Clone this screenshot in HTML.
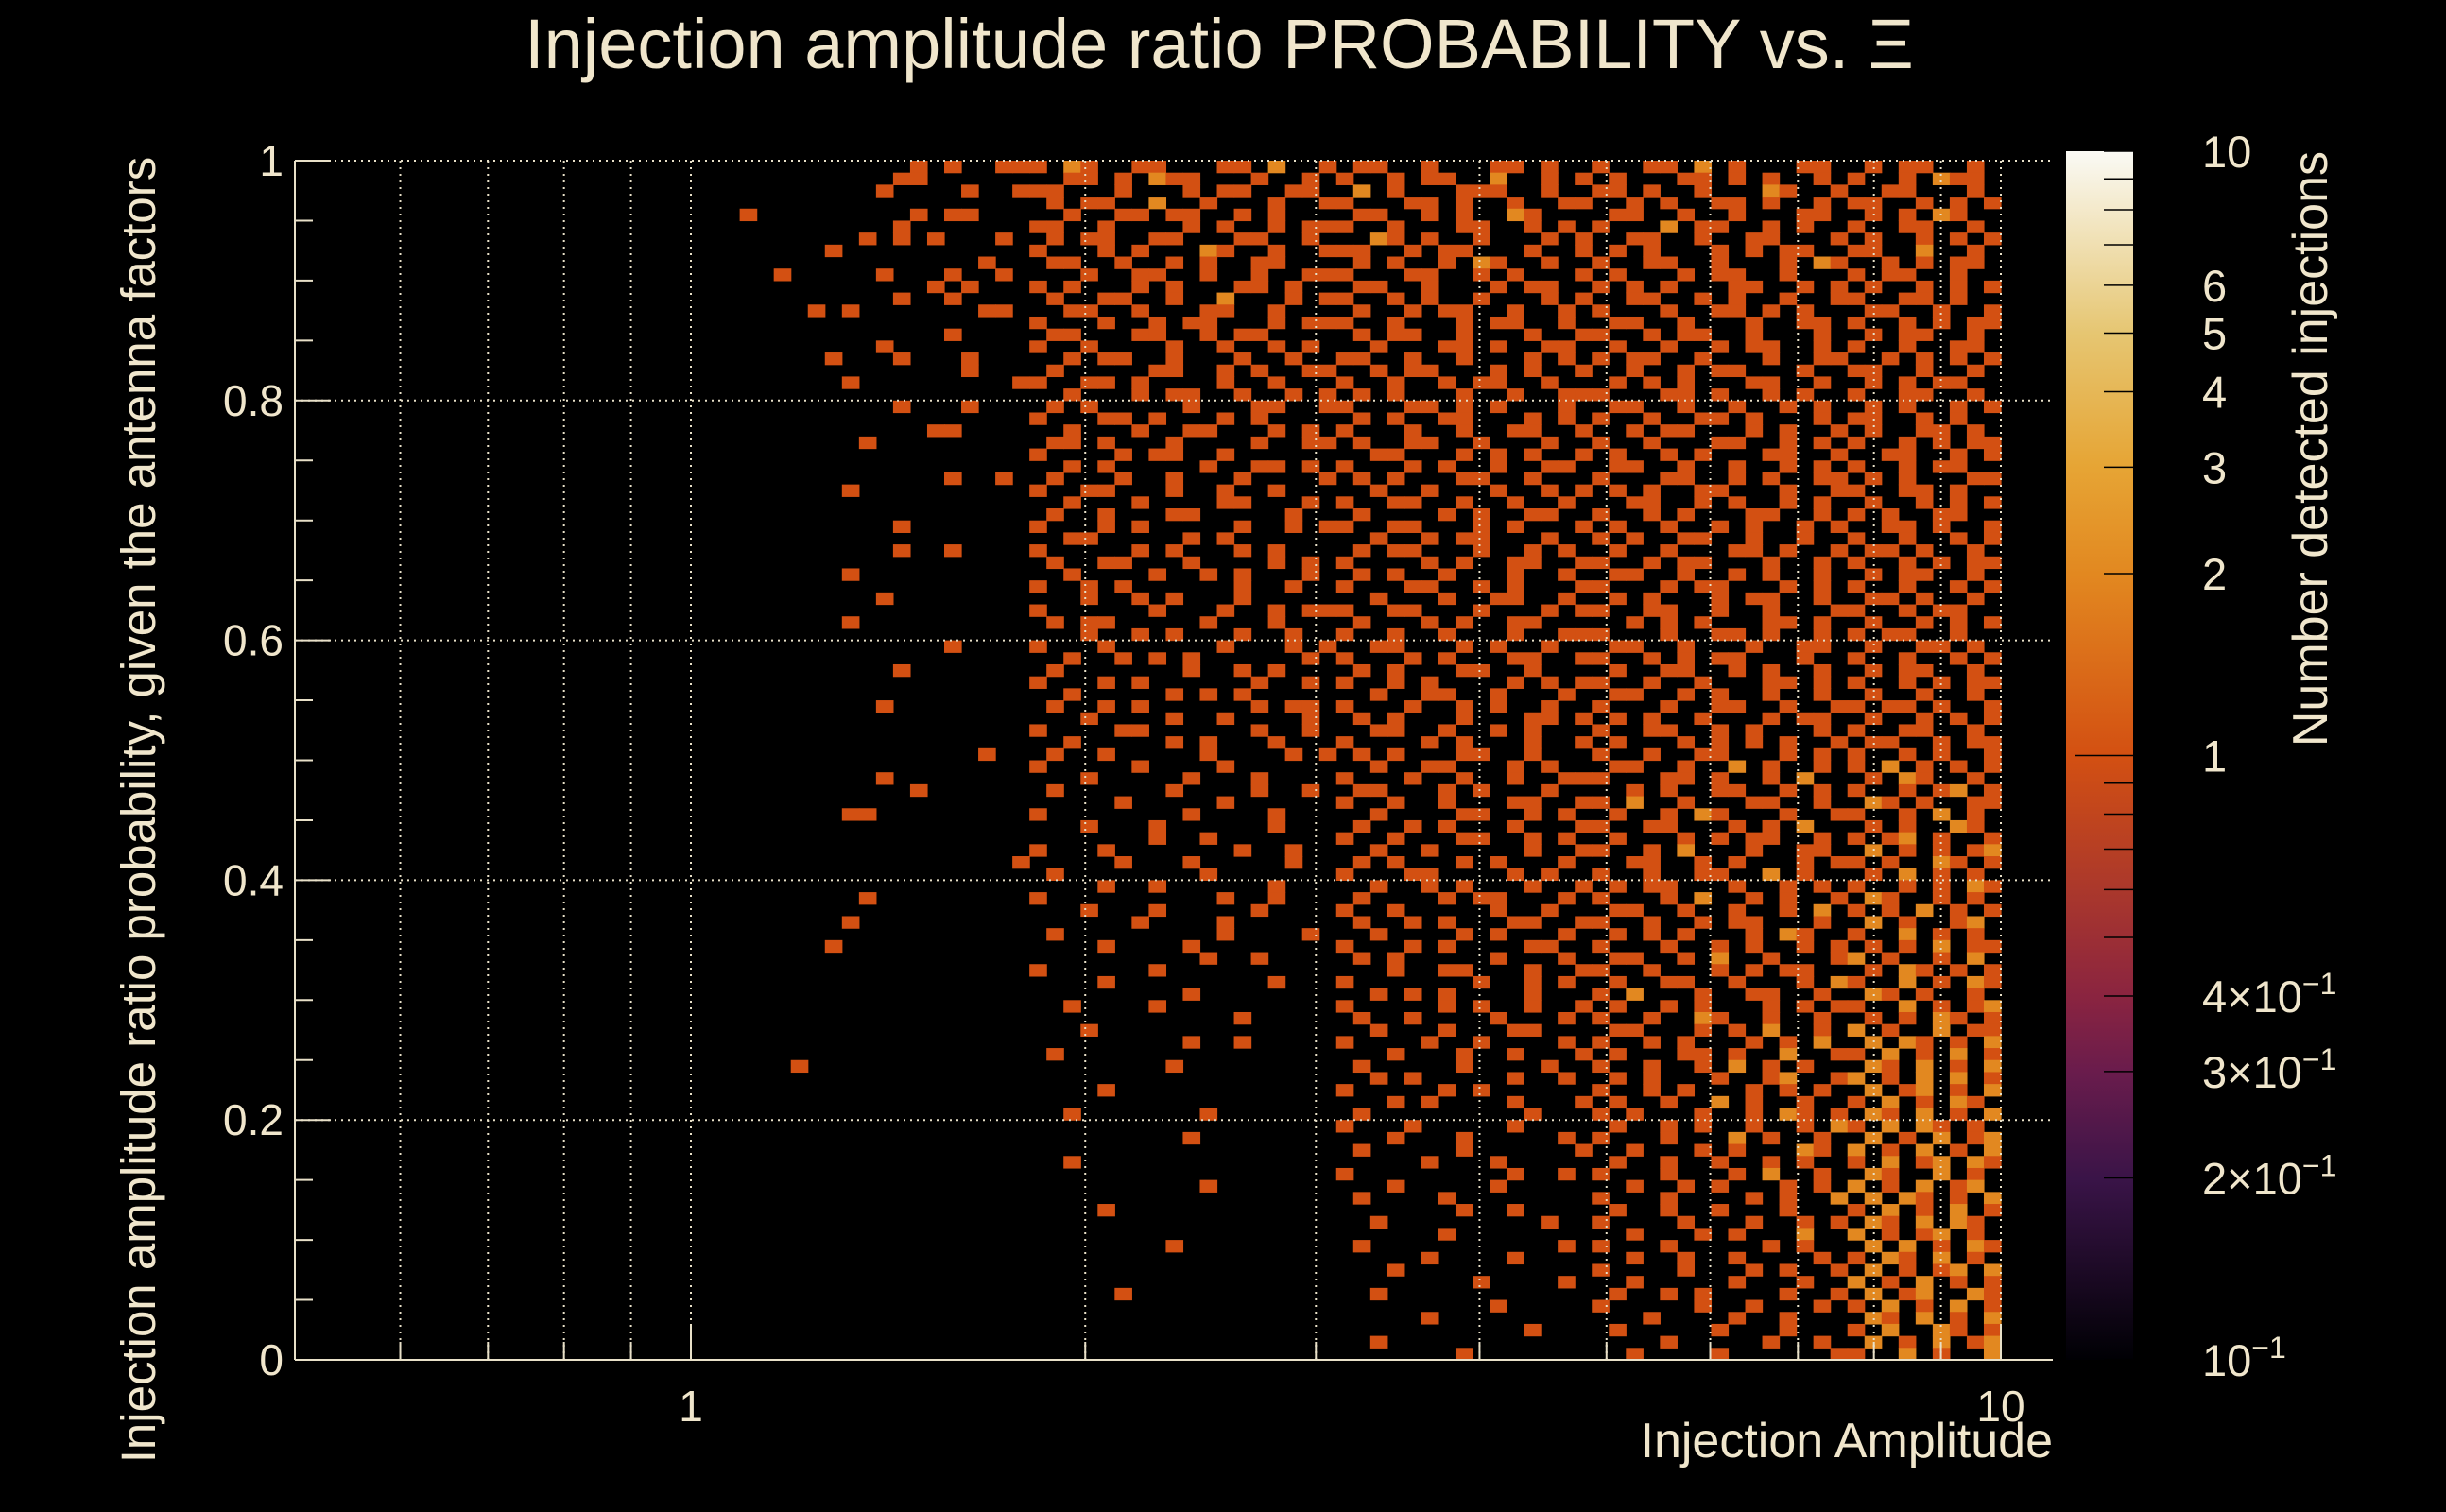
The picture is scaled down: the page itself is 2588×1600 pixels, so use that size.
<!DOCTYPE html>
<html><head><meta charset="utf-8">
<style>
html,body{margin:0;padding:0;background:#000;}
svg{display:block;font-family:"Liberation Sans",sans-serif;}
</style></head>
<body>
<svg id="chart" width="2588" height="1600" viewBox="0 0 2588 1600" xmlns="http://www.w3.org/2000/svg">
<rect x="0" y="0" width="2588" height="1600" fill="#000"/>
<text x="1290" y="72" font-size="74" fill="#f0e6cc" text-anchor="middle">Injection amplitude ratio PROBABILITY vs.  Ξ</text>
<g id="cells"></g>
<g id="grid"></g>
<g id="axes"></g>
<g id="cbar"></g>
<text transform="translate(164,857) rotate(-90)" font-size="51" fill="#f0e6cc" text-anchor="middle">Injection amplitude ratio probability, given the antenna factors</text>
<text x="2172" y="1542" font-size="52" fill="#f0e6cc" text-anchor="end">Injection Amplitude</text>
<text transform="translate(2462,160) rotate(-90)" font-size="52" fill="#f0e6cc" text-anchor="end">Number detected injections</text>
</svg>
<script>
// ---- data ----
// x bins: 100 log-uniform bins from 0.5 to 10; rows from y=1 (top) down to y=0, 100 bins
const xMin = 0.5, xMax = 10, nXBins = 100, nYBins = 100;
const firstDataBin = 21;
const segLens = [22, 18, 15, 15, 9];
const rows = [
"...............1.1..11|1.21..11...11.2..1|.11..1...11.1..|1..11.2.1...11.|.1.11..1.",
"..............11......|..11.1.211...1..1.|1..1.11..2..1.1|.1...11.1.1..1.|1..1.211.",
".............1....1..1|11...1...1.11..11.|.2.1...111..1..|11.1..1...21..1|..11...1.",
"......................|.1.11..2..1...1..1|1...11.1..1..11|..1.1..11.1..1.|11..1.1.1",
".....1.........1.11...|..1..11.11..1.1...|.11..1.1..21...|.11..1..1...11.|.1.1.21..",
"..............1.......|11..1....1.1..1.11|1..1...11..1.1.|1...2.11..1.1..|1..11..1.",
"............1.1.1...1.|.1.11..11...11..1.|..21.1..1...1.1|..11..1..11...1|.1..1.1.1",
"..........1...........|1...1.1...21..1..1|11..1.11...1..1|.1.1...1.1.11..|11..2..1.",
"...................1..|.11..1..1.1..11...|.1.1..1.21..1..|1..11..1...1.21|..1.1.11.",
".......1.....1...1..1.|...1..11..1..1..11|1...11..1.1...1|.1...1.11..1...|1.11..1..",
"................1.1...|1.1...1.1...11.1..|.11..1...1.11..|1.1.1...11..1.1|.1..1.1.1",
"..............1..1....|.1..11..1..2...1.1|1..1.1..1...1.1|..11..1.1..1..1|1..11.1..",
".........1.1.......11.|..11..1...11..1...|.1..1.11..1..1.|1...1..11.1.1..|.11..1..1",
"......................|1...1..1.11...1.11|1..1...1.11..1.|.11..1...1..11.|1..1.1.11",
".................1....|.11...11..1.11....|.1.11..1...1..1|1..1.11..1...1.|.1.11..1.",
".............1........|1..1....1..1..1.1.|..1...11.1..11.|.1..1..1.11..1.|1..1..11.",
"..........1...1...1...|..1.11..1...1..1..|11..1..1...1.1.|1.11..1...1..11|..1.1.1.1",
"..................1...|.1.....11..1.1..11|..1.11...1.1..1|..1..1.11...1..|11..1..1.",
"...........1.........1|1..11.1....1..1...|1..1..1.11..1..|.1.1.1...11..1.|.1.1.11..",
"......................|..1...1.11..1..1.1|.1.1...1..1..11|1...11.1..1.1..|1..11..1.",
"..............1...1...|.1.1.....1...11..1|1...11.1.1...1.|.11..1..1..1.1.|.1.1..1.1",
"......................|1...11.1...1.1....|.1.1..11...1.1.|1..1..11.1...1.|11..1.1..",
"................11....|..1...1..11...1.1.|1...1..1..11..1|..1.11...1.1..1|.1..11.1.",
"............1.........|.11.1...1....1..11|.1..11..1...1..|1..1...11..1.1.|1..1.1.11",
"......................|1....1.11..1......|..11...1.1.1..1|.1..1.1...11..1|..11..1.1",
"......................|..1.1.....1..11.1.|1...1.1..1..11.|.11..1..1..1.1.|1..1.11..",
".................1..1.|.1...1..1...1....1|.1.1...11..1...|1...11..1.1..11|.1.1...11",
"...........1..........|1..11...1..1..1...|..1..1...1..1.1|.1.1..11...1..1|1..11.1..",
"......................|..1...1....11...1.|1..11..1..1..1.|..11..1.1..1.1.|.1..1.1.1",
"......................|.1..1...11.....1..|.1....1.1..11..|1..1.1...11..1.|1.1..11..",
"..............1.......|1...1.1.....1..1.1|1..11...1.1...1|.1..1..1.1..1.1|..11.1..1",
"......................|..11.....1.1......|..1..1.11...1..|1.1..11..1..1..|1..1..1.1",
"..............1..1....|1.....1.1...1.1...|.1.11...1..1.1.|.1..1...11.1..1|.11.1..1.",
"......................|.1..11...1....1.1.|1....1.1..11..1|1..1.11...1..1.|1..1.1.11",
"...........1..........|..1....1..1.1...1.|.1.1..1...1..1.|.11..1..1.1..1.|.1.11..1.",
"......................|1..1.1......1..1..|1...11..1.1...1|1...1.11...1.1.|1..1..1.1",
".............1........|...1..1.1...1.....|..1...1..11..1.|.1.1...1.11..1.|.11.1..1.",
"......................|1......1...1..1.11|1..11...1...1.1|1..11..1..1...1|1..1.11..",
"...........1..........|.1.11.....1...1...|.1...1.1..11...|..1.1.1...11.1.|.1..1.1.1",
"......................|...1..1.1...1..1..|1..1..1...1..11|1...1..11.1..1.|1.11..1..",
".................1....|1...1......1...1.1|..11...1.1..1..|.11..1...1..11.|.1..11.1.",
"......................|..1..1.1.1......1.|1...1.1...11..1|1..1.1.11...1..|1..1..1.1",
"..............1.......|.1.......1..1.1...|.1.1...11..1...|.1..11..1.1..1.|.1.11..1.",
"......................|1...1.1......1..1.|1..1.1....1.1.1|1..1..1...11.1.|1..1.1.11",
"......................|..1.....1.1.1.....|..1..11..1...1.|.11..1.1..1..1.|.1..1..1.",
".............1........|.1..1.1......1.11.|1...1..1.1..1..|1...1..11..1..1|1.11.1..1",
"......................|...1....1..1....1.|.1.1...1...11.1|.1.1..1...1.11.|.1..1.1.1",
"......................|1....11......1..1.|..11..1..1.1...|1..11..1.1...1.|1..11..1.",
"......................|..1.....1.1...1...|1....1.1...1..1|.1...1.1.1.1..1|.11..1.11",
"...................1..|.1..1.....1....1.1|.1.1...11..1...|1..1..11...1.1.|1..1.1..1",
"......................|1.....1....1......|..1..11...1.1..|.11..1..2.1..1.|1.2.1.1.1",
".............1........|...1.....1...1....|1...1..1..1..11|1...11.1..1.2..|.1.21..1.",
"...............1......|.1......1....1..1.|.11...1.1...1..|..1.1..11..1.1.|1..1.12.1",
"......................|.....1.....1......|1..1..1...11..1|1.2..1...11..1.|.21.1..11",
"...........11.........|1........1....1...|..1....11..1.1.|.1..1.21...1..1|1..1.2.1.",
"......................|...1...1......1...|.1..1.1...1...1|1..11...1.1.2..|.1.1..21.",
"......................|.......1..1.......|1..1...11..1.1.|.1...1.1.11..1.|1.12.1..1",
"......................|1...1.......1..1..|..1..1.....1..1|1..1.2...1..11.|.2.1.1.12",
".....................1|.....1...1.....1..|.1.1...1.1...1.|..11..1.1...1.1|1.1..21.1",
"......................|.1........1.......|1...11....1.1..|1..1..11..2.1..|.1.2.1.1.",
"......................|....1..1......1...|..1..1.1...1..1|.1.11...1..1.1.|1..1.1.21",
"............1.........|1..........1..1...|.1....1.11...1.|1...1.2..1.1..1|.21..1.1.",
"......................|...1...1.....1....|1..1.....1..1..|.11..1..1..1.2.|1.1.2.1.1",
"...........1..........|......1....1......|.1..1.1...11..1|1..1..1.11...1.|.2.1..12.",
"......................|.1.........1....1.|..1....1.1...1.|.1.1.1...1.21..|1..2.1.1.",
"..........1...........|....1....1........|1...1.1....11..|1...1..1.1..1.1|.1.1.2.11",
"......................|..........1..1....|.1.1.....1...1.|.11..1.2..1...1|2.1..1.2.",
"......................|1......1..........|...1..11...1..1|1..1...1.1.11..|.1.21.1.1",
"......................|....1.........1...|1.......1..1.1.|.1..11..1...1.2|1..2.1.21",
"......................|.........1........|..1.1.1....1...|1.2...1..11..1.|.21.1..1.",
"......................|..1....1..........|1.....1.1..1..1|.1..1.1...1.1.1|1..2.1.12",
"......................|............1.....|.1..1....1...1.|1..1..21..1..1.|.1.1.21.1",
"......................|...1..............|..1...1...11...|.11...1.1.2..1.|2.1..2.11",
"......................|.........1..1.....|1....1..1....1.|1..1.1...1.1.2.|.2.21.1.2",
"......................|.1................|...1...1..1...1|.1...11.1..2..1|1.2.1.2.1",
"........1.............|........1.........|.1.....1....1..|1..1..1.2.1.1..|.21.2.1.2",
"......................|..................|..1.1.....1..1.|.1.1...1..12..1|2.1.2.2.1",
"......................|....1.............|1.....1.1......|1..1.1...1.1.1.|.2.12.1.2",
"......................|..................|...1.1....1...1|.1..1..2.1..1..|1.2.1.21.",
"......................|..1.......1.......|.1.........1...|1.1...1..1.21.1|.21.2.1.2",
"......................|..................|1...1.....1....|.1..1.1..1..1.2|1.2.21.1.",
"......................|.........1........|...1...1.....1.|1...1...2.1..1.|.2.1.2.12",
"......................|..................|.1.....1......1|..1...1.1...21.|2.1.2.1.2",
"......................|..1...............|.....1...1.....|.1..1..1..1.1..|1.2.12.21",
"......................|..................|1.........1..1.|1...1...1.2..1.|.21..2.1.",
"......................|..........1.......|...1.....1.....|..1..1.1...1.1.|2.1.2.12.",
"......................|..................|.1....1........|1...1....1.1..2|.2.21.1.2",
"......................|....1.............|.......1..1....|.1..1..1...1...|1.2.1.2.1",
"......................|..................|..1.........1..|1....1...1..1.1|.21.2.21.",
"......................|..................|......1........|..1...1.1...2..|2.1.12.1.",
"......................|........1.........|.1...........1.|1...1.....1.1..|.2.2.1.21",
"......................|..................|.....1....1....|..1..1..1....1.|1.21.2.1.",
"......................|..................|...1...........|1....1...1.1..1|.2.1.12.2",
"......................|..................|........1....1.|..1.....1...1..|2.1.2.1.1",
"......................|.....1............|..1............|.1..1.1....1..1|.2.12..21",
"......................|..................|.........1.....|1.....1..1...1.|1.2.1.2.1",
"......................|..................|.....1.........|...1....1..1...|.21.2.1.2",
"......................|..................|...........1...|.1.....1...1...|1.2..21.1",
"......................|..................|..1............|....1.....1..1.|.2.1.2.12",
"......................|..................|.......1.......|..1....1......1|1..2.1..2"
];
const yTicks = [0, 0.2, 0.4, 0.6, 0.8, 1];
const yTickLabels = ["0", "0.2", "0.4", "0.6", "0.8", "1"];
const xGridVals = [0.6, 0.7, 0.8, 0.9, 1, 2, 3, 4, 5, 6, 7, 8, 9, 10];
const xMajor = [1, 10];
const xTickLabels = ["1", "10"];
const cbMajor = [0.1, 0.2, 0.3, 0.4, 1, 2, 3, 4, 5, 6, 10];
const cbLabels = ["10", "2×10", "3×10", "4×10", "1", "2", "3", "4", "5", "6", "10"];
const cbMinor = [0.5, 0.6, 0.7, 0.8, 0.9, 7, 8, 9];

// ---- geometry ----
const PL = 312, PR = 2172, PT = 170, PB = 1439;
const X1 = 731, DEC = 1386;
function xs(v){ return X1 + Math.log10(v) * DEC; }
function ys(v){ return PB - v * (PB - PT); }
const CBL = 2186, CBR = 2257, CBT = 160, CBB = 1439;
function cs(v){ return CBB - (Math.log10(v) + 1) / 2 * (CBB - CBT); }
const stops = [[0,[0,0,4]],[0.15,[58,20,72]],[0.239,[106,28,76]],[0.30,[138,36,64]],[0.5,[211,80,18]],[0.65,[226,136,32]],[0.74,[230,165,53]],[0.85,[230,198,114]],[1,[250,250,245]]];
function color(v){
  const t = Math.max(0, Math.min(1, (Math.log10(v) + 1) / 2));
  for (let i = 1; i < stops.length; i++) {
    if (t <= stops[i][0]) {
      const a = stops[i-1], b = stops[i], f = (t - a[0]) / (b[0] - a[0]);
      const c = a[1].map((x, k) => Math.round(x + (b[1][k] - x) * f));
      return "rgb(" + c.join(",") + ")";
    }
  }
  return "rgb(250,250,245)";
}
const NS = "http://www.w3.org/2000/svg";
function mk(tag, attrs, parent){
  const e = document.createElementNS(NS, tag);
  for (const k in attrs) e.setAttribute(k, attrs[k]);
  parent.appendChild(e);
  return e;
}
const lx0 = Math.log10(xMin), lStep = (Math.log10(xMax) - lx0) / nXBins;

// cells
const gc = document.getElementById("cells");
rows.forEach((row, r) => {
  const segs = row.split("|");
  let s = "";
  segLens.forEach((L, i) => { let seg = (segs[i] || ""); seg = (seg + ".".repeat(L)).slice(0, L); s += seg; });
  for (let c = 0; c < s.length; c++) {
    const ch = s[c];
    if (ch === "." || ch === "0") continue;
    const v = parseInt(ch, 10);
    const bin = firstDataBin + c;
    if (bin >= nXBins) continue;
    const xa = xs(Math.pow(10, lx0 + bin * lStep)), xb = xs(Math.pow(10, lx0 + (bin + 1) * lStep));
    const ya = ys(1 - r / nYBins), yb = ys(1 - (r + 1) / nYBins);
    const rc = mk("rect", {x: xa.toFixed(2), y: ya.toFixed(2), width: (xb - xa + 0.6).toFixed(2), height: (yb - ya + 0.6).toFixed(2), fill: color(v)}, gc);
    
    
  }
});

// grid
const gg = document.getElementById("grid");
xGridVals.forEach(v => {
  const l = mk("line", {x1: xs(v), x2: xs(v), y1: PT, y2: PB, stroke: "#e8e0c8", "stroke-width": 2, "stroke-dasharray": "2,5"}, gg);
  
  
});
yTicks.forEach(v => {
  const l = mk("line", {x1: PL, x2: PR, y1: ys(v), y2: ys(v), stroke: "#e8e0c8", "stroke-width": 2, "stroke-dasharray": "2,5"}, gg);
  
  
});

// axes
const ga = document.getElementById("axes");
const ax1 = mk("line", {x1: PL, x2: PR, y1: PB, y2: PB, stroke: "#e8e0c8", "stroke-width": 2}, ga);


const ax2 = mk("line", {x1: PL, x2: PL, y1: PT, y2: PB, stroke: "#e8e0c8", "stroke-width": 2}, ga);


for (let i = 0; i <= 20; i++) {
  const v = i * 0.05;
  const major = Math.abs(v * 5 - Math.round(v * 5)) < 1e-6;
  const t = mk("line", {x1: PL, x2: PL + (major ? 38 : 19), y1: ys(v), y2: ys(v), stroke: "#e8e0c8", "stroke-width": 2}, ga);
  
  
}
yTicks.forEach((v, i) => {
  const t = mk("text", {x: 300, y: ys(v) + 16, "font-size": 46, fill: "#f0e6cc", "text-anchor": "end"}, ga);
  t.textContent = yTickLabels[i];
  
  
});
xGridVals.forEach(v => {
  const major = xMajor.indexOf(v) >= 0;
  const t = mk("line", {x1: xs(v), x2: xs(v), y1: PB, y2: PB - (major ? 38 : 19), stroke: "#e8e0c8", "stroke-width": 2}, ga);
  
  
});
xMajor.forEach((v, i) => {
  const t = mk("text", {x: xs(v), y: 1504, "font-size": 46, fill: "#f0e6cc", "text-anchor": "middle"}, ga);
  t.textContent = xTickLabels[i];
  
  
});

// colorbar
const gb = document.getElementById("cbar");
const defs = mk("defs", {}, gb);
const lg = mk("linearGradient", {id: "cbgrad", x1: 0, y1: 1, x2: 0, y2: 0}, defs);
stops.forEach(s => mk("stop", {offset: s[0], "stop-color": "rgb(" + s[1].join(",") + ")"}, lg));
const cbr = mk("rect", {x: CBL, y: CBT, width: CBR - CBL, height: CBB - CBT, fill: "url(#cbgrad)"}, gb);


cbMajor.concat(cbMinor).forEach(v => {
  const len = (v === 1) ? 62 : 31;
  const t = mk("line", {x1: CBR - len, x2: CBR, y1: cs(v), y2: cs(v), stroke: "#000", "stroke-width": 1.5}, gb);
  
  
});
cbMajor.forEach((v, i) => {
  const y = cs(v) + 17;
  const t = mk("text", {x: 2330, y: y, "font-size": 47, fill: "#f0e6cc"}, gb);
  t.textContent = cbLabels[i];
  if (v < 1) {
    const sp = mk("tspan", {dy: -19, "font-size": 32}, t);
    sp.textContent = "−1";
  }
  
  
});
</script>
</body></html>
